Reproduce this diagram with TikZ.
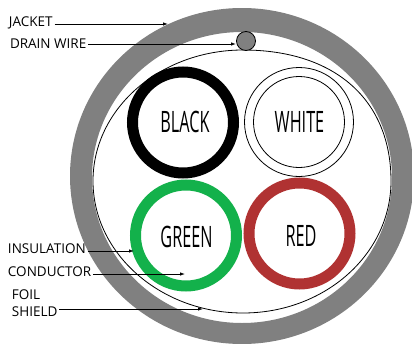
\documentclass[tikz,border=0pt]{standalone}
\usepackage{fontspec}
\setmainfont{Open Sans}
\newfontfamily\condfont[FakeStretch=0.55]{Open Sans}
\usetikzlibrary{arrows.meta}
\definecolor{jacketgray}{HTML}{808080}
\definecolor{wiregreen}{HTML}{13B14B}
\definecolor{wirered}{HTML}{B03232}
\tikzset{
  wire/.style={circle, draw=#1, line width=11pt, minimum size=101pt, inner sep=0pt, outer sep=0pt},
  thin ring/.style={circle, draw, line width=.8pt, inner sep=0pt, outer sep=0pt},
  wirename/.style={inner sep=0pt, font=\condfont\fontsize{29.5}{29.5}\selectfont},
  lbl/.style={anchor=west, inner sep=0pt, outer sep=2pt, font=\fontsize{13.5}{13.5}\selectfont},
  lead/.style={-{Latex[length=5pt,width=3.5pt]}, line width=.8pt},
}
\begin{document}
\begin{tikzpicture}[x=1pt, y=-1pt]
  \useasboundingbox (0,0) rectangle (412,343);
  % jacket and foil
  \fill[jacketgray, even odd rule] (242,176) ellipse [x radius=172, y radius=168]
    (242,177.5) ellipse [x radius=150, y radius=145.5];
  \draw[line width=.8pt] (243,50) .. controls (335,50) and (391,100) .. (391,181)
    .. controls (391,254) and (325,313) .. (243,313)
    .. controls (161,313) and (93,254) .. (93,181)
    .. controls (93,108) and (161,50) .. (243,50) -- cycle;

  \node[wire=black] (black) at (183,122.5) {};
  \node[wire=wiregreen] (green) at (186,235.5) {};
  \node[wire=wirered] (red) at (299.5,233.5) {};
  \node[thin ring, minimum size=109pt] (white) at (299,122) {};
  \node[thin ring, minimum size=91pt] (whitein) at (white) {};
  \node[thin ring, fill=jacketgray, minimum size=19pt] (drain) at (246,41) {};

  \node[wirename] (blackname) at (185,122) {BLACK};
  \node[wirename] (whitename) at (299.5,122) {WHITE};
  \node[wirename] (greenname) at (186.5,237) {GREEN};
  \node[wirename] (redname) at (301,236) {RED};

  \node[lbl] (jacket) at (7,23) {JACKET};
  \node[lbl] (drainwire) at (8,44) {DRAIN WIRE};
  \node[lbl] (insulation) at (6,249) {INSULATION};
  \node[lbl] (conductor) at (6,272) {CONDUCTOR};
  \node[lbl] (foil) at (10,295) {FOIL};
  \node[lbl] (shield) at (10,312) {SHIELD};

  \coordinate (jackettip) at (168,24);
  \coordinate (draintip) at (236,44);
  \coordinate (instip) at (134,251);
  \coordinate (condtip) at (185,274);
  \coordinate (shieldtip) at (203,309);

  \draw[lead] (jacket.east |- jackettip) -- (jackettip);
  \draw[lead] (drainwire.east) -- (draintip);
  \draw[lead] (insulation.east |- instip) -- (instip);
  \draw[lead] (conductor.east |- condtip) -- (condtip);
  \draw[lead] (shield.east |- shieldtip) -- (shieldtip);
\end{tikzpicture}
\end{document}
